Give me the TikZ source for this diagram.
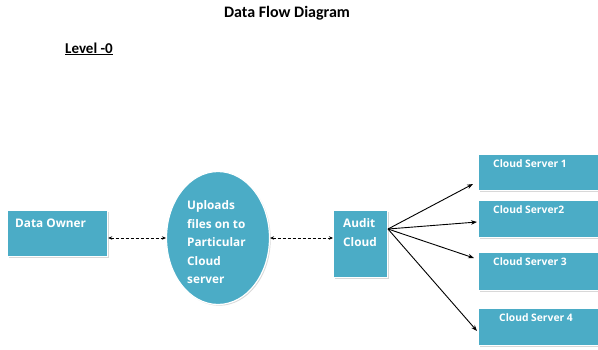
\documentclass[tikz,border=0pt]{standalone}
\usepackage{fontspec}
\setmainfont{Open Sans}
\newfontfamily\titlefont{Carlito}
\usetikzlibrary{arrows.meta,shapes.geometric,shadows}
\definecolor{aqua}{HTML}{4BACC6}
\begin{document}
\begin{tikzpicture}[x=1pt,y=-1pt,
  box/.style={draw=white, line width=1.2pt, fill=aqua, inner sep=0pt,
    drop shadow={shadow xshift=1.2pt, shadow yshift=-1.2pt, fill=black!30, opacity=0.5}},
  lbl/.style={font=\bfseries\fontsize{11.8}{18.5}\selectfont, text=white, anchor=north west, inner sep=0pt, align=left},
  slbl/.style={font=\bfseries\fontsize{10.3}{12}\selectfont, text=white, anchor=base west, inner sep=0pt},
  dflow/.style={densely dashed, line width=0.9pt, {Stealth[length=4pt,width=3.5pt]}-{Stealth[length=4pt,width=3.5pt]}},
  flow/.style={line width=0.9pt, -{Stealth[length=6pt,width=4.5pt]}}
]
\useasboundingbox (0,0) rectangle (598,349);
\node[font=\titlefont\bfseries\fontsize{16}{18}\selectfont, anchor=base] (title) at (287,17) {Data Flow Diagram};
\node[font=\titlefont\bfseries\fontsize{15}{16}\selectfont, anchor=base west, inner sep=0pt] (level) at (65,53) {\underline{Level -0}};

\node[box, minimum width=100pt, minimum height=46pt, anchor=north west] (owner) at (7,210) {};
\node[box, ellipse, minimum width=103pt, minimum height=133pt] (upl) at (218,238) {};
\node[box, minimum width=54pt, minimum height=67pt, anchor=north west] (audit) at (333,210) {};
\node[box, minimum width=122pt, minimum height=36pt, anchor=north west] (s1) at (478,154) {};
\node[box, minimum width=122pt, minimum height=37pt, anchor=north west] (s2) at (478,200) {};
\node[box, minimum width=122pt, minimum height=38pt, anchor=north west] (s3) at (478,252) {};
\node[box, minimum width=122pt, minimum height=37pt, anchor=north west] (s4) at (478,308) {};

\node[lbl] (towner) at (15,218.5) {Data Owner};
\node[lbl] (tupl) at (187,200.5) {Uploads\\files on to\\Particular\\Cloud\\server};
\node[lbl] (taudit) at (343,218.5) {Audit\\Cloud};
\node[slbl] (ts1) at (493,167) {Cloud Server 1};
\node[slbl] (ts2) at (493,213) {Cloud Server2};
\node[slbl] (ts3) at (493,265) {Cloud Server 3};
\node[slbl] (ts4) at (499,321) {Cloud Server 4};

\draw[dflow] (owner.east |- upl.west) -- (upl.west);
\draw[dflow] (upl.east) -- (audit.west |- upl.east);

\coordinate (fan) at (388,229);
\coordinate (a1) at (473,184);
\coordinate (a2) at (477,222);
\coordinate (a3) at (474,258);
\coordinate (a4) at (477,331);
\draw[flow] (fan) -- (a1);
\draw[flow] (fan) -- (a2);
\draw[flow] (fan) -- (a3);
\draw[flow] (fan) -- (a4);
\end{tikzpicture}
\end{document}
